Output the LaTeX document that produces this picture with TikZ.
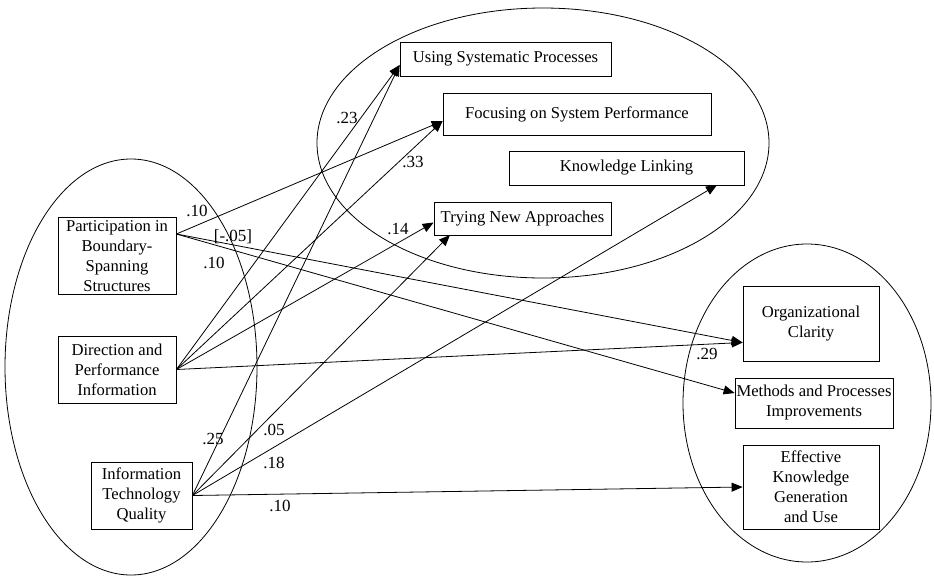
\documentclass[tikz,border=0pt]{standalone}
\usepackage{fontspec}
\setmainfont{Liberation Serif}
\usetikzlibrary{arrows.meta}
\begin{document}
\begin{tikzpicture}[x=1pt,y=-1pt,
  box/.style={draw,line width=0.8pt,inner sep=0pt,align=center,font=\fontsize{16.6}{20}\selectfont},
  lbl/.style={inner sep=0pt,font=\fontsize{17}{19}\selectfont},
  arr/.style={line width=0.8pt,-{Triangle[length=11pt,width=9pt]}},
  oval/.style={line width=0.8pt}]
\useasboundingbox (0,0) rectangle (934,576);
% ellipses
\draw[oval] (131,367) ellipse [x radius=126, y radius=208];
\draw[oval] (543,143) ellipse [x radius=226, y radius=135];
\draw[oval] (807,403) ellipse [x radius=124, y radius=159];
% boxes
\node[box,minimum width=118pt,minimum height=77pt] (P) at (117,256) {Participation in\\Boundary-\\Spanning\\Structures};
\node[box,minimum width=118pt,minimum height=67pt] (D) at (117,369.5) {Direction and\\Performance\\Information};
\node[box,minimum width=101pt,minimum height=67pt] (I) at (141.5,495.5) {Information\\Technology\\Quality};
\node[box,minimum width=211pt,minimum height=34pt] (U) at (505.5,59) {Using Systematic Processes};
\node[box,minimum width=268pt,minimum height=42pt] (F) at (577,114) {Focusing on System Performance};
\node[box,minimum width=235pt,minimum height=34pt] (K) at (626.5,168) {Knowledge Linking};
\node[box,minimum width=177pt,minimum height=33pt] (T) at (522.5,218.5) {Trying New Approaches};
\node[box,minimum width=136pt,minimum height=75pt] (O) at (811,323.5) {Organizational\\Clarity};
\node[box,minimum width=158pt,minimum height=50pt] (M) at (814,403) {Methods and Processes\\Improvements};
\node[box,minimum width=136pt,minimum height=84pt] (E) at (811,487) {Effective\\Knowledge\\Generation\\and Use};
% anchor points
\coordinate (Pout) at ([yshift=22pt]P.east);
\coordinate (Uin) at ([yshift=-6pt]U.west);
\coordinate (Fin) at ([yshift=-7pt]F.west);
\coordinate (Tin) at ([yshift=-4pt]T.west);
\coordinate (Tbot) at (450,235);
\coordinate (Kbot) at (717,185);
\coordinate (Oin) at ([yshift=-19pt]O.west);
\coordinate (Min) at ([yshift=10pt]M.west);
% arrows
\draw[arr] (Pout) -- (Fin);
\draw[arr] (Pout) -- (Oin);
\draw[arr] (Pout) -- (Min);
\draw[arr] (D.east) -- (Uin);
\draw[arr] (D.east) -- (Fin);
\draw[arr] (D.east) -- (Tin);
\draw[arr] (D.east) -- (Oin);
\draw[arr] (I.east) -- (Uin);
\draw[arr] (I.east) -- (Tbot);
\draw[arr] (I.east) -- (Kbot);
\draw[arr] (I.east) -- (E.west);
% labels
\node[lbl] (l1) at (197,211) {.10};
\node[lbl] (l2) at (233,237) {[-.05]};
\node[lbl] (l3) at (214,263) {.10};
\node[lbl] (l4) at (347,118) {.23};
\node[lbl] (l5) at (413,162) {.33};
\node[lbl] (l6) at (398,229) {.14};
\node[lbl] (l7) at (707,354) {.29};
\node[lbl] (l8) at (213,439) {.25};
\node[lbl] (l9) at (274,430) {.05};
\node[lbl] (l10) at (274,463) {.18};
\node[lbl] (l11) at (280,506) {.10};
\end{tikzpicture}
\end{document}
